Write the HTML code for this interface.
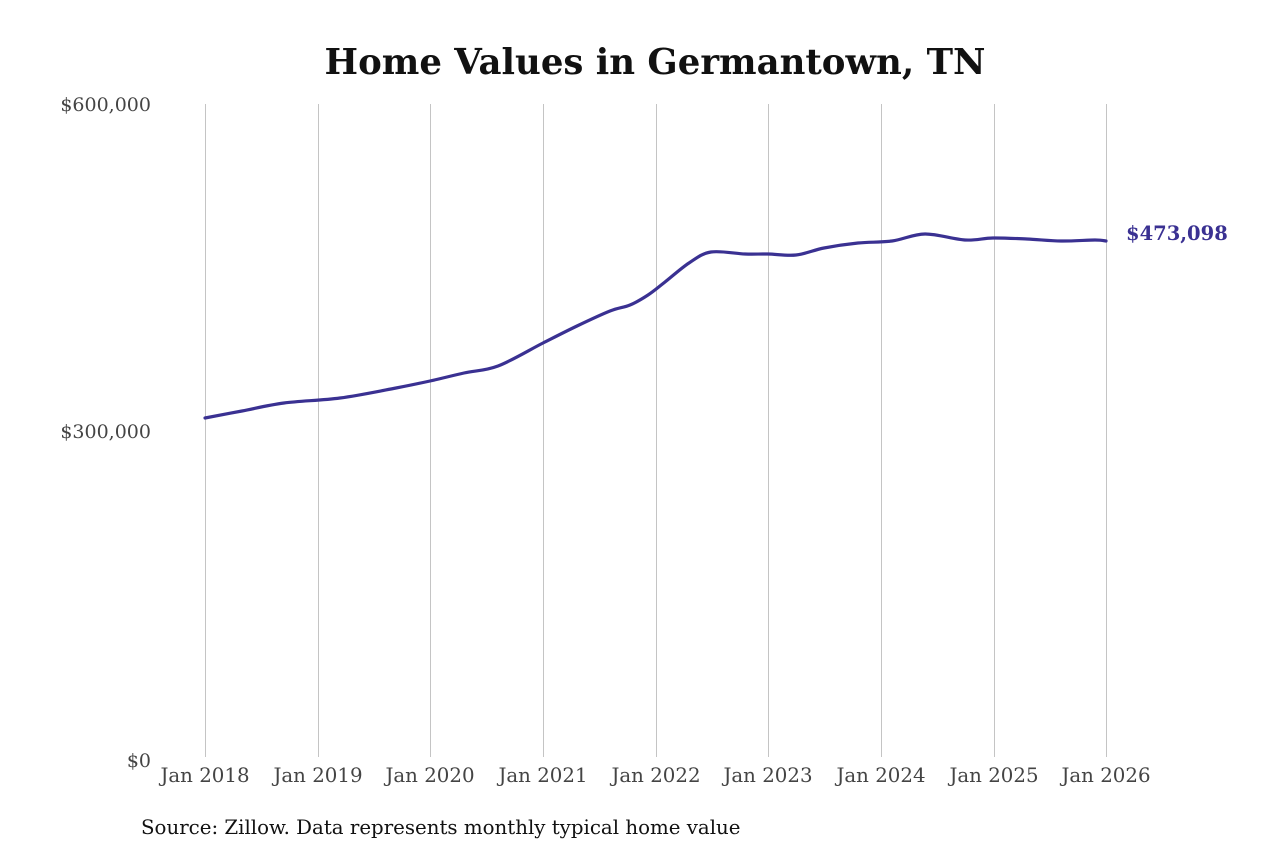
<!DOCTYPE html>
<html><head><meta charset="utf-8"><style>
body{margin:0;background:#fff;}
svg{display:block;}
text{font-family:"DejaVu Serif","Liberation Serif",serif;}
</style></head><body>
<svg width="1280" height="853" xmlns="http://www.w3.org/2000/svg">
<text x="655" y="74" text-anchor="middle" font-size="35.5" font-weight="bold" fill="#111">Home Values in Germantown, TN</text>
<g stroke="#c4c4c4" stroke-width="1">
<line x1="205.5" y1="104" x2="205.5" y2="757"/>
<line x1="318.5" y1="104" x2="318.5" y2="757"/>
<line x1="430.5" y1="104" x2="430.5" y2="757"/>
<line x1="543.5" y1="104" x2="543.5" y2="757"/>
<line x1="656.5" y1="104" x2="656.5" y2="757"/>
<line x1="768.5" y1="104" x2="768.5" y2="757"/>
<line x1="881.5" y1="104" x2="881.5" y2="757"/>
<line x1="994.5" y1="104" x2="994.5" y2="757"/>
<line x1="1106.5" y1="104" x2="1106.5" y2="757"/>
</g>
<g font-size="19" fill="#444" text-anchor="end">
<text x="151" y="111">$600,000</text>
<text x="151" y="438">$300,000</text>
<text x="151" y="767">$0</text>
</g>
<g font-size="19.8" fill="#444" text-anchor="middle">
<text x="205" y="782">Jan 2018</text>
<text x="318" y="782">Jan 2019</text>
<text x="430" y="782">Jan 2020</text>
<text x="543" y="782">Jan 2021</text>
<text x="656" y="782">Jan 2022</text>
<text x="768" y="782">Jan 2023</text>
<text x="881" y="782">Jan 2024</text>
<text x="994" y="782">Jan 2025</text>
<text x="1106" y="782">Jan 2026</text>
</g>
<path id="ln" fill="none" stroke="#3a3192" stroke-width="3.2" stroke-linejoin="round" stroke-linecap="round" d=""/>
<text x="1126" y="240" font-size="19.5" font-weight="bold" fill="#3a3192">$473,098</text>
<text x="141" y="834" font-size="19.8" fill="#111">Source: Zillow. Data represents monthly typical home value</text>
</svg>
<script>
var p=[[205,418],[242,411],[284,403],[340,398],[396,388],[430,381],[464,373],[498,366],[543,343],[577,326],[610,311],[630,305],[648,295],[665,282],[689,263],[711,252],[745,254],[768,254],[796,255],[824,248],[858,243],[892,241],[925,234],[965,240],[993,238],[1027,239],[1061,241],[1095,240],[1106,241]];
var d="M"+p[0][0]+","+p[0][1];
for(var i=0;i<p.length-1;i++){var a=p[i-1]||p[i],b=p[i],c=p[i+1],e=p[i+2]||c;
d+=" C"+(b[0]+(c[0]-a[0])/6)+","+(b[1]+(c[1]-a[1])/6)+" "+(c[0]-(e[0]-b[0])/6)+","+(c[1]-(e[1]-b[1])/6)+" "+c[0]+","+c[1];}
document.getElementById("ln").setAttribute("d",d);
</script>
</body></html>
